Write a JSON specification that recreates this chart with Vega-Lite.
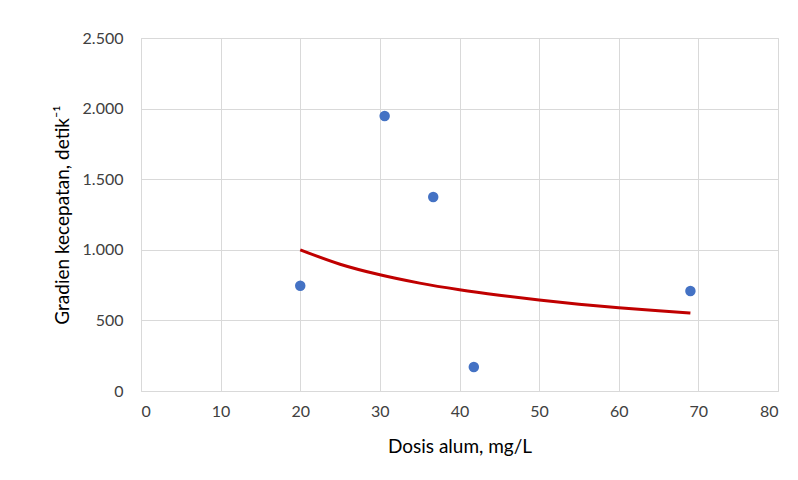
{
  "$schema": "https://vega.github.io/schema/vega-lite/v6.json",
  "width": 637,
  "height": 353,
  "autosize": "none",
  "padding": {"left": 141, "top": 38, "right": 20, "bottom": 89},
  "background": "white",
  "config": {
    "locale": {"number": {"decimal": ",", "thousands": ".", "grouping": [3], "currency": ["", ""]}},
    "view": {"stroke": "#d9d9d9", "strokeWidth": 1},
    "font": "Lato",
    "axis": {
      "labelFont": "Lato",
      "titleFont": "Lato",
      "labelFontSize": 16,
      "titleFontSize": 19,
      "labelColor": "#404040",
      "titleColor": "#000000",
      "titleFontWeight": "normal",
      "gridColor": "#d9d9d9",
      "gridWidth": 1,
      "ticks": false,
      "domain": false
    }
  },
  "datasets": {
    "obs": [
      {"dosis": 20, "gradien": 745},
      {"dosis": 30.6, "gradien": 1948},
      {"dosis": 36.7, "gradien": 1374},
      {"dosis": 41.8, "gradien": 170},
      {"dosis": 69, "gradien": 708}
    ],
    "trend": [
      {"dosis": 20, "gradien": 1000},
      {"dosis": 25, "gradien": 898},
      {"dosis": 30, "gradien": 823},
      {"dosis": 35, "gradien": 764},
      {"dosis": 40, "gradien": 717},
      {"dosis": 45, "gradien": 678},
      {"dosis": 50, "gradien": 644},
      {"dosis": 55, "gradien": 615},
      {"dosis": 60, "gradien": 590},
      {"dosis": 65, "gradien": 568},
      {"dosis": 69, "gradien": 552}
    ]
  },
  "encoding": {
    "x": {
      "field": "dosis",
      "type": "quantitative",
      "scale": {"domain": [0, 80], "nice": false, "zero": true},
      "axis": {"values": [0, 10, 20, 30, 40, 50, 60, 70, 80], "title": "Dosis alum, mg/L", "labelPadding": 12, "titlePadding": 18}
    },
    "y": {
      "field": "gradien",
      "type": "quantitative",
      "scale": {"domain": [0, 2500], "nice": false},
      "axis": {"values": [0, 500, 1000, 1500, 2000, 2500], "format": ",d", "title": "Gradien kecepatan, detik⁻¹", "labelPadding": 18, "titlePadding": 10}
    }
  },
  "layer": [
    {
      "data": {"name": "trend"},
      "mark": {"type": "line", "color": "#C00000", "strokeWidth": 3, "interpolate": "monotone"}
    },
    {
      "data": {"name": "obs"},
      "mark": {"type": "circle", "color": "#4472C4", "size": 110, "opacity": 1}
    }
  ]
}
